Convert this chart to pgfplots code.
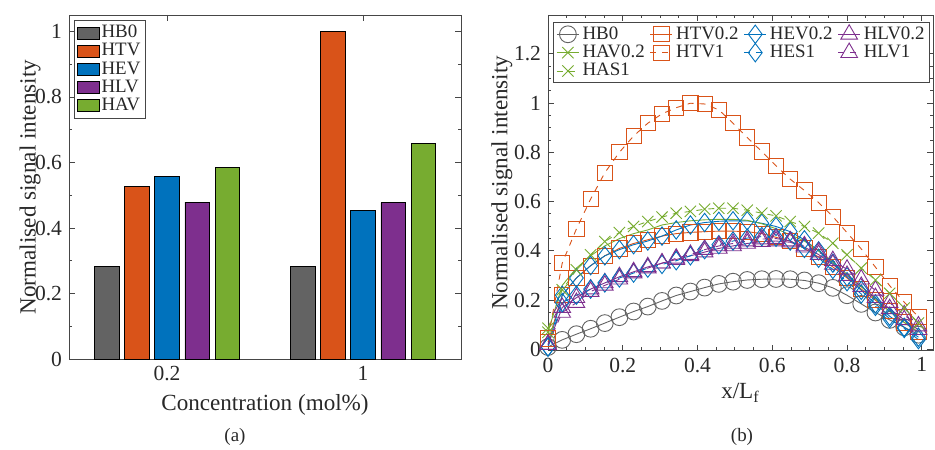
\documentclass[border=0pt]{standalone}
\usepackage{fontspec}
\setmainfont{Liberation Serif}
\usepackage{pgfplots}
\usepackage{pgfplotstable}
\pgfplotsset{compat=1.18}
\definecolor{cHB}{RGB}{99,99,99}
\definecolor{cHT}{RGB}{217,83,25}
\definecolor{cHE}{RGB}{0,114,189}
\definecolor{cHL}{RGB}{126,47,142}
\definecolor{cHA}{RGB}{119,172,48}
\definecolor{cax}{RGB}{70,70,70}
\definecolor{ctx}{RGB}{40,40,40}

\pgfplotstableread{
x     HB0   HTVa  HEVa  HLVa  HAVa  HTVb  HESb  HLVb  HASb
0     0.010 0.030 0.010 0.020 0.070 0.045 0.010 0.020 0.086
0.038 0.039 0.220 0.220 0.170 0.260 0.350 0.190 0.150 0.242
0.076 0.062 0.290 0.290 0.210 0.330 0.489 0.220 0.190 0.323
0.114 0.084 0.340 0.340 0.245 0.380 0.610 0.245 0.235 0.384
0.152 0.107 0.380 0.380 0.270 0.420 0.717 0.270 0.260 0.438
0.191 0.131 0.410 0.405 0.295 0.450 0.800 0.290 0.285 0.474
0.229 0.154 0.430 0.425 0.315 0.470 0.866 0.310 0.310 0.499
0.267 0.174 0.445 0.440 0.335 0.485 0.918 0.330 0.330 0.519
0.305 0.197 0.460 0.460 0.350 0.505 0.956 0.345 0.350 0.537
0.343 0.219 0.470 0.485 0.365 0.515 0.981 0.360 0.370 0.553
0.381 0.235 0.475 0.505 0.380 0.522 0.999 0.380 0.385 0.560
0.419 0.251 0.478 0.515 0.395 0.526 0.996 0.405 0.405 0.569
0.457 0.266 0.480 0.520 0.410 0.528 0.972 0.425 0.420 0.573
0.495 0.275 0.480 0.522 0.420 0.528 0.918 0.440 0.430 0.573
0.533 0.282 0.478 0.522 0.430 0.524 0.860 0.452 0.440 0.565
0.572 0.285 0.470 0.512 0.438 0.510 0.803 0.458 0.448 0.553
0.610 0.286 0.455 0.499 0.440 0.490 0.745 0.455 0.450 0.542
0.648 0.285 0.440 0.478 0.435 0.465 0.691 0.440 0.440 0.519
0.686 0.280 0.410 0.445 0.415 0.440 0.645 0.410 0.420 0.499
0.724 0.269 0.375 0.400 0.385 0.400 0.596 0.370 0.395 0.472
0.762 0.250 0.335 0.350 0.345 0.355 0.539 0.325 0.360 0.431
0.800 0.220 0.290 0.295 0.300 0.305 0.474 0.275 0.325 0.384
0.838 0.185 0.245 0.240 0.255 0.255 0.408 0.225 0.285 0.330
0.876 0.150 0.200 0.185 0.210 0.205 0.334 0.175 0.240 0.282
0.914 0.120 0.155 0.135 0.165 0.155 0.259 0.125 0.190 0.228
0.953 0.090 0.110 0.090 0.120 0.110 0.192 0.085 0.140 0.168
0.991 0.060 0.070 0.050 0.080 0.070 0.133 0.040 0.095 0.107
}\profiles

\newcommand{\lblfont}{\fontsize{11.6}{13}\selectfont}
\newcommand{\tckfont}{\fontsize{10.8}{12}\selectfont}
\newcommand{\lgdfont}{\fontsize{9.5}{11}\selectfont}

\pgfplotsset{
  common/.style={
    scale only axis,
    axis line style={draw=cax, line width=0.45bp},
    tick style={draw=cax, line width=0.45bp},
    tick align=inside,
    tick pos=both,
    major tick length=3bp,
    minor tick length=1.6bp,
    /pgf/number format/assume math mode=true,
    xticklabel style={font=\tckfont, text=ctx},
    yticklabel style={font=\tckfont, text=ctx},
    legend style={font=\lgdfont, text=ctx, draw=cax, line width=0.45bp, fill=white},
    legend cell align=left,
  },
}

\begin{document}
\begin{tikzpicture}
\useasboundingbox (0,0) rectangle (467.5bp,225bp);

% ---------------- (a) bar chart ----------------
\begin{axis}[common,
  at={(34.5bp,45.35bp)}, anchor=south west,
  width=196bp, height=172.15bp,
  xmin=-0.5, xmax=1.5, ymin=0, ymax=1.05,
  xtick={0,1}, xticklabels={0.2,1},
  ytick={0,0.2,0.4,0.6,0.8,1},
  minor ytick={0.1,0.3,0.5,0.7,0.9},
  xlabel={Concentration (mol\%)},
  ylabel={Normalised signal intensity},
  every axis x label/.style={at={(axis description cs:0.5,-0.1325)}, anchor=center, font=\lblfont, text=ctx},
  every axis y label/.style={at={(axis description cs:-0.0995,0.5)}, rotate=90, anchor=center, font=\lblfont, text=ctx},
  bar width=0.124,
  legend style={at={(0.012,0.985)}, anchor=north west, inner xsep=1.5bp, inner ysep=1.5bp,
    nodes={inner sep=0.8bp}, row sep=-0.2bp},
  legend image code/.code={\draw[#1, line width=0.4bp] (0bp,-3bp) rectangle (11bp,3bp);},
]
\addplot[ybar, bar shift=-0.307, fill=cHB, draw=black, line width=0.4bp] coordinates {(0,0.283) (1,0.283)};
\addlegendentry{HB0}
\addplot[ybar, bar shift=-0.1535, fill=cHT, draw=black, line width=0.4bp] coordinates {(0,0.527) (1,1.0)};
\addlegendentry{HTV}
\addplot[ybar, bar shift=0, fill=cHE, draw=black, line width=0.4bp] coordinates {(0,0.557) (1,0.455)};
\addlegendentry{HEV}
\addplot[ybar, bar shift=0.1535, fill=cHL, draw=black, line width=0.4bp] coordinates {(0,0.479) (1,0.478)};
\addlegendentry{HLV}
\addplot[ybar, bar shift=0.307, fill=cHA, draw=black, line width=0.4bp] coordinates {(0,0.585) (1,0.659)};
\addlegendentry{HAV}
\end{axis}

% ---------------- (b) profiles ----------------
\begin{axis}[common,
  at={(274bp,49.65bp)}, anchor=south west,
  width=192.5bp, height=167.85bp,
  xmin=0, xmax=1.03, ymin=-0.005, ymax=1.357,
  xtick={0,0.2,0.4,0.6,0.8,1},
  ytick={0,0.2,0.4,0.6,0.8,1,1.2},
  minor x tick num=3, minor y tick num=3,
  xlabel={x/L\textsubscript{f}},
  ylabel={Normalised signal intensity},
  every axis x label/.style={at={(axis description cs:0.5,-0.125)}, anchor=center, font=\lblfont, text=ctx},
  every axis y label/.style={at={(axis description cs:-0.12,0.5)}, rotate=90, anchor=center, font=\lblfont, text=ctx},
  clip=false,
  legend columns=4,
  legend style={at={(0.013,0.979)}, anchor=north west, inner xsep=1.5bp, inner ysep=1bp,
    nodes={inner sep=1bp}, row sep=-0.6bp,
    /tikz/every odd column/.append style={column sep=0.6bp},
    /tikz/every even column/.append style={column sep=1.6bp}},
  legend image code/.code={\draw[mark repeat=2, mark phase=2, #1] plot coordinates {(0bp,0bp) (5.5bp,0bp) (11bp,0bp)};},
  every axis plot/.append style={line width=0.45bp},
]
\addplot[cHB, mark=o, mark size=4.2bp, mark options={solid, line width=0.45bp}] table[x=x, y=HB0] {\profiles};
\addlegendentry{HB0}
\addplot[cHT, mark=square, mark size=3.8bp, mark options={solid, line width=0.45bp}] table[x=x, y=HTVa] {\profiles};
\addlegendentry{HTV0.2}
\addplot[cHE, mark=diamond, mark size=4.6bp, mark options={solid, line width=0.45bp}] table[x=x, y=HEVa] {\profiles};
\addlegendentry{HEV0.2}
\addplot[cHL, mark=triangle, mark size=4.8bp, mark options={solid, line width=0.45bp}] table[x=x, y=HLVa] {\profiles};
\addlegendentry{HLV0.2}
\addplot[cHA, mark=x, mark size=4bp, mark repeat=100, mark options={solid, line width=0.45bp}] table[x=x, y=HAVa] {\profiles};
\addlegendentry{HAV0.2}
\addplot[cHT, dashed, mark=square, mark size=3.8bp, mark options={solid, line width=0.45bp}] table[x=x, y=HTVb] {\profiles};
\addlegendentry{HTV1}
\addplot[cHE, dashed, mark=diamond, mark size=4.6bp, mark options={solid, line width=0.45bp}] table[x=x, y=HESb] {\profiles};
\addlegendentry{HES1}
\addplot[cHL, dashed, mark=triangle, mark size=4.8bp, mark options={solid, line width=0.45bp}] table[x=x, y=HLVb] {\profiles};
\addlegendentry{HLV1}
\addplot[cHA, dashed, mark=x, mark size=4bp, mark options={solid, line width=0.45bp}] table[x=x, y=HASb] {\profiles};
\addlegendentry{HAS1}
\end{axis}

\node[font=\lgdfont, text=ctx] at (117.5bp,6.5bp) {(a)};
\node[font=\lgdfont, text=ctx] at (371bp,6.5bp) {(b)};
\end{tikzpicture}
\end{document}
